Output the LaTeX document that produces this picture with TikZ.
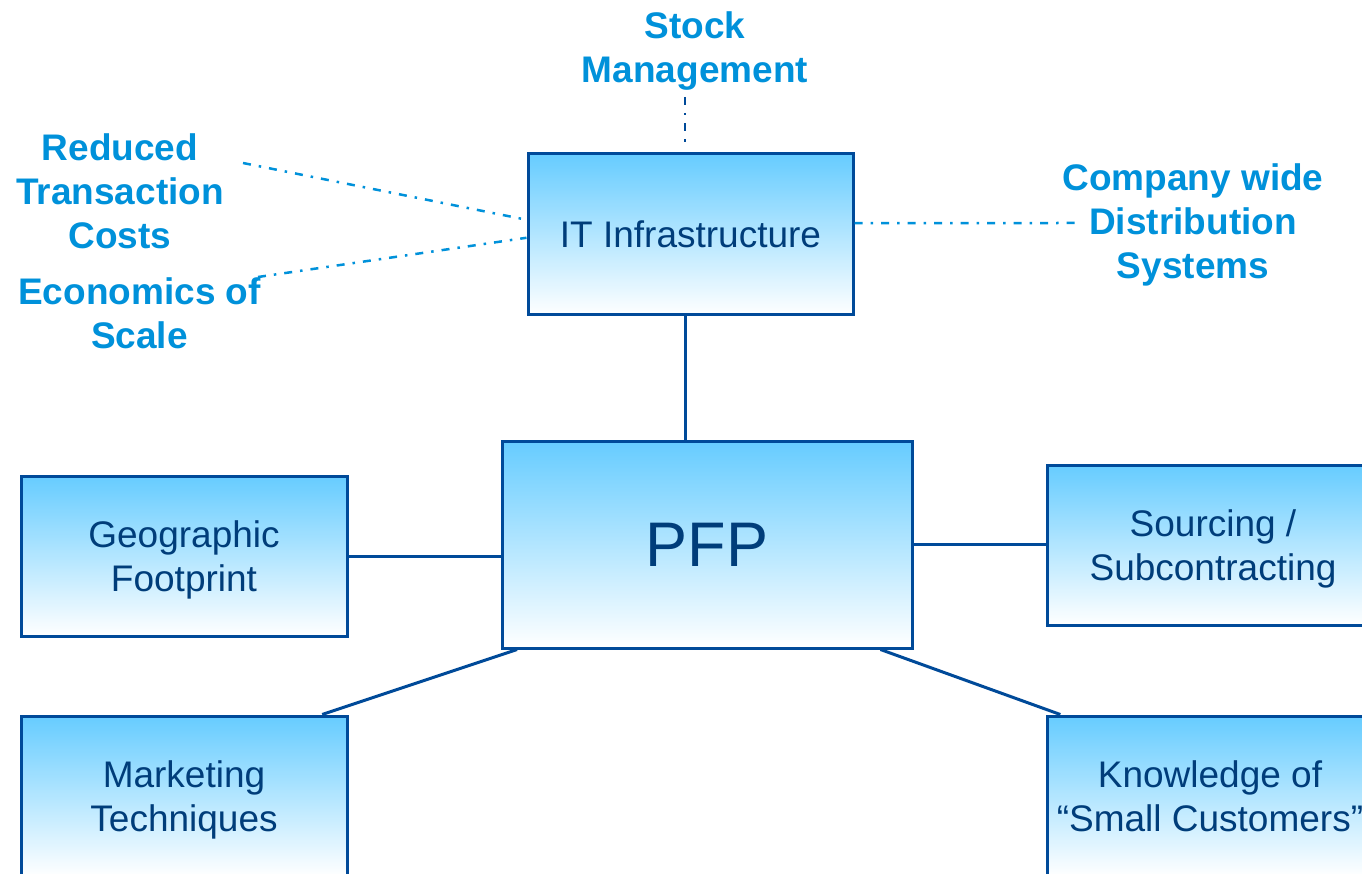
\documentclass[tikz,border=0pt]{standalone}
\usepackage{fontspec}
\setmainfont{Liberation Sans}
\usetikzlibrary{calc}

\definecolor{boxline}{RGB}{0,74,153}
\definecolor{boxtext}{RGB}{0,61,122}
\definecolor{boxtop}{RGB}{102,204,255}
\definecolor{notetext}{RGB}{0,145,218}

\begin{document}
\begin{tikzpicture}[x=1pt, y=-1pt,
    box/.style={draw=boxline, line width=3pt, top color=boxtop, bottom color=white, text=boxtext,
                minimum width=326pt, minimum height=160pt, inner sep=0pt, align=center, text depth=0pt,
                font=\fontsize{37}{44}\selectfont},
    note/.style={text=notetext, inner sep=0pt, align=center, font=\fontsize{37}{44}\selectfont\bfseries},
    link/.style={draw=boxline, line width=3pt},
    hint/.style={draw=notetext, line width=2.5pt, dash pattern=on 8pt off 8pt on 2.5pt off 8pt}]

    \useasboundingbox (0,0) rectangle (1362,874);
    \clip (0,0) rectangle (1362,874);

    \node[box, minimum width=410pt, minimum height=207pt, font=\fontsize{63}{70}\selectfont]
                                    (pfp)   at (707,544.5)  {PFP};
    \node[box, minimum width=325pt, minimum height=161pt]
                                    (it)    at (690.5,234.5) {IT Infrastructure};
    \node[box]                      (geo)   at (184,556)    {Geographic\\Footprint};
    \node[box]                      (mkt)   at (184,796)    {Marketing\\Techniques};
    \node[box, minimum width=332pt] (src)   at (1213,545)   {Sourcing /\\Subcontracting};
    \node[box]                      (kno)   at (1210,796)   {Knowledge of\\``Small Customers''};

    \node[note]                     (stock) at (695,51)     {Stock\\Management};
    \node[note]                     (rtc)   at (120,191)    {Reduced\\Transaction\\Costs};
    \node[note]                     (eos)   at (139.5,313)  {Economics of\\Scale};
    \node[note]                     (cwd)   at (1193,225)   {Company wide\\Distribution\\Systems};

    \coordinate (stockend) at (685,97);
    \coordinate (rtcend)   at (243,163);
    \coordinate (eosend)   at (258,277);
    \coordinate (cwdend)   at (1080,223);

    % solid links around PFP
    \draw[link] (it.south -| 685,0)  -- (pfp.north -| 685,0);
    \draw[link] (geo.east)           -- (geo.east -| pfp.west);
    \draw[link] (pfp.east)           -- (pfp.east -| src.west);
    \draw[link] ($(pfp.south west)!0.04!(pfp.south east)$) -- ($(mkt.north west)!0.92!(mkt.north east)$);
    \draw[link] ($(pfp.south west)!0.92!(pfp.south east)$) -- ($(kno.north west)!0.045!(kno.north east)$);

    % dash-dot hints to IT
    \draw[hint, draw=boxline] (stockend) -- ($(stockend |- it.north)+(0,-3)$);
    \draw[hint] (rtcend) -- ($(it.north west)!0.41!(it.south west)$);
    \draw[hint] (eosend) -- ($(it.north west)!0.52!(it.south west)$);
    \draw[hint] ($(it.north east)!0.43!(it.south east)$) -- (cwdend);

\end{tikzpicture}
\end{document}
